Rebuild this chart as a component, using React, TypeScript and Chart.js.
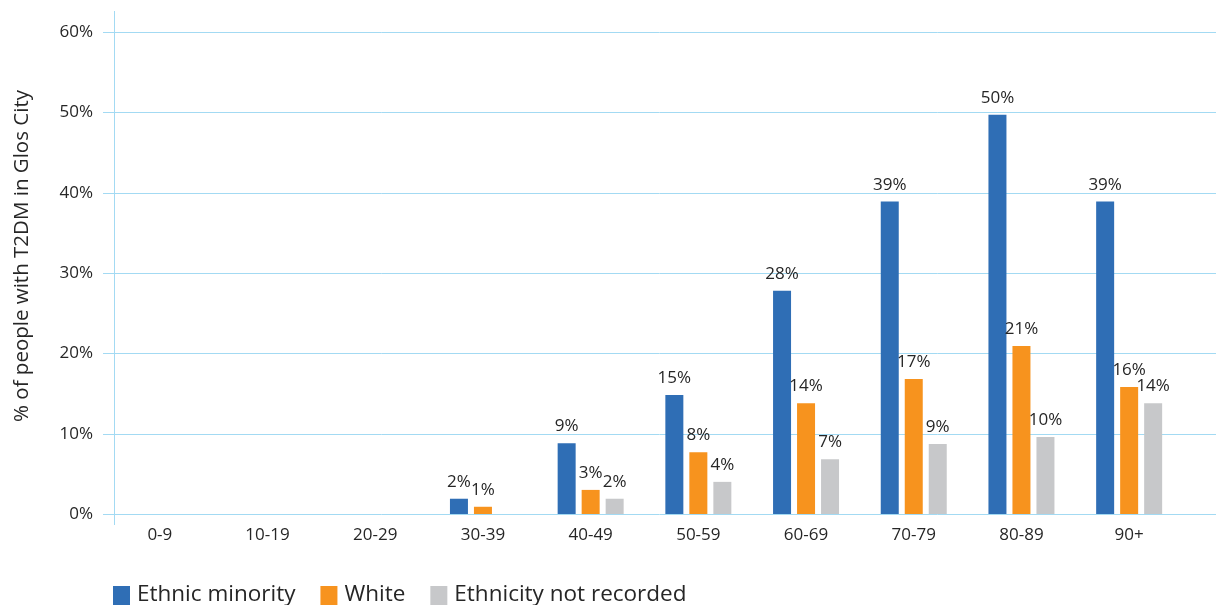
import React, { useEffect, useRef } from "react";
import { Chart, registerables } from "chart.js";

Chart.register(...registerables);

const categories = ["0-9", "10-19", "20-29", "30-39", "40-49", "50-59", "60-69", "70-79", "80-89", "90+"];
const ethnicMinority = [null, null, null, 1.9, 8.8, 14.8, 27.8, 38.9, 49.7, 38.9];
const white = [null, null, null, 0.9, 3.0, 7.7, 13.8, 16.8, 20.9, 15.8];
const notRecorded = [null, null, null, null, 1.9, 4.0, 6.8, 8.7, 9.6, 13.8];
const seriesNames = ["Ethnic minority", "White", "Ethnicity not recorded"];
const seriesColors = ["#2F6EB5", "#F7931E", "#C7C8CA"];
const yTicks = [0, 10, 20, 30, 40, 50, 60];
const yTitle = "% of people with T2DM in Glos City";

const FONT = "'Open Sans', 'Noto Sans', sans-serif";
const GRID = "#A3DAF3";
const TEXT = "#262626";

const customPlugin = {
  id: "custom",
  beforeDatasetsDraw(chart: any) {
    const ctx = chart.ctx;
    const y = chart.scales.y;
    const area = chart.chartArea;
    const axisX = area.left + 8;
    ctx.save();
    ctx.strokeStyle = GRID;
    ctx.lineWidth = 1;
    yTicks.forEach((t) => {
      const py = Math.round(y.getPixelForValue(t)) + 0.5;
      ctx.beginPath();
      ctx.moveTo(axisX - 11, py);
      ctx.lineTo(chart.width, py);
      ctx.stroke();
    });
    const ax = Math.round(axisX) + 0.5;
    ctx.beginPath();
    ctx.moveTo(ax, area.top - 21);
    ctx.lineTo(ax, area.bottom + 11);
    ctx.stroke();
    // y title
    ctx.translate(22, 256);
    ctx.rotate(-Math.PI / 2);
    ctx.fillStyle = TEXT;
    ctx.font = `20.5px ${FONT}`;
    ctx.textAlign = "center";
    ctx.textBaseline = "middle";
    ctx.fillText(yTitle, 0, 0);
    ctx.restore();
  },
  afterDatasetsDraw(chart: any) {
    const ctx = chart.ctx;
    ctx.save();
    ctx.fillStyle = TEXT;
    ctx.font = `17px ${FONT}`;
    ctx.textAlign = "center";
    ctx.textBaseline = "alphabetic";
    chart.data.datasets.forEach((ds: any, i: number) => {
      const meta = chart.getDatasetMeta(i);
      meta.data.forEach((el: any, j: number) => {
        const v = ds.data[j];
        if (v === null || v === undefined) return;
        ctx.fillText(Math.round(v) + "%", el.x, el.y - 12);
      });
    });
    // legend
    ctx.font = `22.5px ${FONT}`;
    ctx.textAlign = "left";
    let x = 113;
    const boxTop = 586;
    chart.data.datasets.forEach((ds: any) => {
      ctx.fillStyle = ds.backgroundColor;
      ctx.fillRect(x, boxTop, 17, 19);
      ctx.fillStyle = TEXT;
      ctx.fillText(ds.label, x + 24, 601);
      x += 24 + ctx.measureText(ds.label).width + 25;
    });
    ctx.restore();
  },
};

export default function App() {
  const ref = useRef<HTMLCanvasElement | null>(null);
  useEffect(() => {
    if (!ref.current) return;
    const chart = new Chart(ref.current, {
      type: "bar",
      data: {
        labels: categories,
        datasets: [ethnicMinority, white, notRecorded].map((d, i) => ({
          label: seriesNames[i],
          data: d,
          backgroundColor: seriesColors[i],
          borderWidth: 0,
          categoryPercentage: 0.6685,
          barPercentage: 0.75,
        })),
      },
      options: {
        animation: false,
        responsive: false,
        layout: { padding: { top: 32, right: 33, left: 0, bottom: 0 } },
        plugins: { legend: { display: false }, tooltip: { enabled: false } },
        scales: {
          x: {
            grid: { display: false, drawTicks: false },
            border: { display: false },
            ticks: { color: TEXT, font: { family: FONT, size: 17 }, padding: 11 },
            afterFit: (s: any) => {
              s.height = 91;
            },
          },
          y: {
            min: 0,
            max: 60,
            afterBuildTicks: (s: any) => {
              s.ticks = yTicks.map((v) => ({ value: v }));
            },
            grid: { display: false, drawTicks: false },
            border: { display: false },
            ticks: {
              color: TEXT,
              font: { family: FONT, size: 17 },
              padding: 13,
              callback: (v: any) => v + "%",
            },
            title: { display: false },
            afterFit: (s: any) => {
              s.width = 106;
            },
          },
        },
      },
      plugins: [customPlugin],
    });
    return () => chart.destroy();
  }, []);
  return (
    <div style={{ position: "absolute", left: 0, top: 0, width: 1216, height: 605, background: "#fff" }}>
      <canvas ref={ref} width={1216} height={605} style={{ display: "block" }} />
    </div>
  );
}
